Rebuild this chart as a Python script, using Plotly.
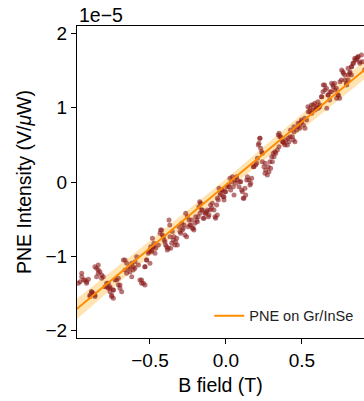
import plotly.graph_objects as go

# B field (T)
b_field = [
    -0.949, -0.960, -0.938, -0.916, -0.905, -0.971, -0.840, -0.851, -0.829, -0.818,
    -0.840, -0.807, -0.884, -0.895, -0.873, -0.862, -0.785, -0.774, -0.763, -0.752,
    -0.741, -0.796, -0.763, -0.719, -0.708, -0.697, -0.686, -0.741, -0.664, -0.653,
    -0.642, -0.631, -0.620, -0.598, -0.587, -0.576, -0.609, -0.555, -0.543, -0.533,
    -0.533, -0.522, -0.500, -0.489, -0.478, -0.467,
    -0.484, -0.474, -0.495, -0.462, -0.507, -0.430, -0.418, -0.407, -0.397, -0.386,
    -0.364, -0.375, -0.370, -0.353, -0.342, -0.331, -0.320, -0.309, -0.298, -0.287,
    -0.276, -0.265, -0.254, -0.243, -0.232, -0.221, -0.211, -0.199, -0.188, -0.178,
    -0.173, -0.166, -0.155, -0.145, -0.134, -0.122, -0.112, -0.101, -0.089, -0.079,
    -0.068, -0.057, -0.046, -0.035, -0.024, -0.013,
    -0.057, -0.013, -0.002, 0.020, 0.031, 0.042, 0.053, 0.064, 0.075, 0.086,
    0.097, 0.108, 0.118, 0.130, 0.141, 0.151, 0.163, 0.184, 0.195, 0.207,
    0.217, 0.222, 0.228, 0.239, 0.239, 0.250, 0.261, 0.272, 0.283, 0.294,
    0.305, 0.316, 0.327, 0.338, 0.349, 0.349, 0.360, 0.371, 0.382, 0.393,
    0.404, 0.414, 0.437, 0.447,
    0.425, 0.447, 0.474, 0.496, 0.485, 0.518, 0.539, 0.551, 0.562, 0.572,
    0.584, 0.595, 0.605, 0.616, 0.628, 0.638, 0.649, 0.661, 0.671, 0.682,
    0.693, 0.704, 0.715, 0.726, 0.737, 0.748, 0.759, 0.770, 0.781, 0.792,
    0.803, 0.814, 0.825, 0.836, 0.847, 0.858, 0.868, 0.880, 0.891, 0.901,
    0.912, 0.825, 0.803,
    # second pass over the cloud
    -0.949, -0.928, -0.917, -0.862, -0.840, -0.851, -0.818, -0.884, -0.895, -0.862,
    -0.785, -0.763, -0.741, -0.752, -0.774, -0.730, -0.708, -0.697, -0.675, -0.664,
    -0.653, -0.632, -0.620, -0.610, -0.599, -0.566, -0.555, -0.533, -0.522, -0.511,
    -0.500, -0.489, -0.478, -0.445, -0.434, -0.423, -0.412, -0.401, -0.390, -0.380,
    -0.368, -0.357, -0.347, -0.336, -0.324, -0.303, -0.291, -0.281, -0.270, -0.259,
    -0.248, -0.237, -0.226, -0.215, -0.204, -0.193, -0.182, -0.171, -0.160, -0.149,
    -0.138, -0.127, -0.116, -0.105, -0.094, -0.072, -0.061, -0.051, -0.039, -0.028,
    -0.018, -0.007, 0.005, 0.015, 0.026, 0.038, 0.048, 0.059, 0.070, 0.092,
    0.103, 0.114, 0.125, 0.136, 0.158, 0.169, 0.257,
    0.180, 0.202, 0.224, 0.213, 0.235, 0.257, 0.278, 0.289, 0.301, 0.311,
    0.322, 0.344, 0.355, 0.377, 0.388, 0.410, 0.421, 0.443, 0.454, 0.465,
    0.476, 0.487, 0.498, 0.509, 0.520, 0.531, 0.541, 0.553, 0.564, 0.574,
    0.586, 0.597, 0.607, 0.618, 0.630, 0.640, 0.651, 0.663, 0.673, 0.684,
    0.695, 0.706, 0.717, 0.728, 0.739, 0.750, 0.761, 0.772, 0.783, 0.794,
    0.805, 0.816, 0.827, 0.838, 0.849, 0.860, 0.870, 0.882,
]

# PNE intensity (units of 1e-5 V/uW)
pne_intensity = [
    -1.229, -1.342, -1.319, -1.342, -1.310, -1.364, -1.117, -1.162, -1.207, -1.252,
    -1.229, -1.274, -1.476, -1.521, -1.498, -1.543, -1.364, -1.431, -1.476, -1.521,
    -1.566, -1.409, -1.409, -1.319, -1.386, -1.431, -1.476, -1.454, -1.050, -1.095,
    -1.162, -1.207, -1.274, -1.072, -1.005, -1.117, -1.140, -1.319, -1.364, -1.386,
    -1.140, -1.050, -1.095, -0.915, -0.871, -0.960,
    -0.758, -0.826, -0.871, -0.893, -0.938, -0.646, -0.713, -0.781, -0.848, -0.915,
    -0.893, -0.511, -0.579, -0.668, -0.736, -0.803, -0.848, -0.601, -0.691, -0.646,
    -0.579, -0.421, -0.467, -0.511, -0.579, -0.624, -0.646, -0.467, -0.534, -0.332,
    -0.265, -0.287, -0.377, -0.489, -0.421, -0.377, -0.444, -0.310, -0.287, -0.377,
    -0.489, -0.444, -0.085, -0.152, -0.108, -0.198,
    -0.220, -0.242, -0.130, -0.063, -0.108, 0.071, -0.175, -0.018, 0.027, -0.063,
    0.004, -0.130, -0.220, -0.175, 0.071, 0.027, -0.018, 0.206, 0.229, 0.319,
    0.521, 0.588, 0.454, 0.386, 0.273, 0.206, 0.162, 0.094, 0.139, 0.184,
    0.273, 0.341, 0.386, 0.431, 0.475, 0.655, 0.610, 0.542, 0.521, 0.565,
    0.498, 0.542, 0.610, 0.677,
    0.700, 0.744, 0.790, 0.834, 0.723, 0.857, 1.013, 0.946, 1.036, 0.969,
    1.059, 0.992, 1.081, 1.013, 1.148, 1.215, 1.306, 1.261, 1.171, 1.104,
    1.215, 1.306, 1.328, 1.261, 1.171, 1.127, 1.373, 1.485, 1.440, 1.328,
    1.373, 1.463, 1.552, 1.597, 1.665, 1.642, 1.686, 1.597, 1.709, 1.619,
    1.507, 1.440, 1.530,
    # second pass over the cloud
    -1.274, -1.319, -1.364, -1.140, -1.184, -1.274, -1.296, -1.476, -1.543, -1.521,
    -1.409, -1.431, -1.454, -1.543, -1.364, -1.319, -1.296, -1.386, -1.050, -1.184,
    -1.229, -1.140, -1.095, -1.184, -1.162, -1.319, -1.364, -1.140, -1.050, -0.960,
    -0.915, -0.938, -0.871, -0.848, -0.691, -0.646, -0.736, -0.803, -0.871, -0.893,
    -0.736, -0.826, -0.781, -0.848, -0.758, -0.668, -0.556, -0.624, -0.713, -0.736,
    -0.601, -0.579, -0.511, -0.624, -0.556, -0.511, -0.467, -0.421, -0.377, -0.489,
    -0.421, -0.400, -0.467, -0.377, -0.354, -0.467, -0.310, -0.242, -0.175, -0.108,
    -0.198, -0.130, -0.063, -0.040, 0.050, 0.004, -0.063, 0.027, 0.071, 0.004,
    -0.108, -0.220, -0.085, 0.027, -0.040, 0.050, 0.117,
    0.206, 0.251, 0.588, 0.498, 0.408, 0.251, 0.206, 0.273, 0.341, 0.386,
    0.408, 0.633, 0.610, 0.542, 0.498, 0.588, 0.610, 0.565, 0.542, 0.700,
    0.744, 0.790, 0.812, 0.767, 0.723, 0.834, 0.946, 0.992, 0.925, 1.036,
    0.969, 1.013, 0.992, 1.036, 1.148, 1.306, 1.238, 0.992, 1.171, 1.215,
    1.328, 1.283, 1.238, 1.127, 1.171, 1.350, 1.507, 1.463, 1.373, 1.306,
    1.440, 1.485, 1.552, 1.597, 1.642, 1.665, 1.686, 1.619,
]

# Linear fit and its confidence band (units of 1e-5)
fit_x = [-1.0, -0.5, 0.0, 0.5, 1.0]
fit_y = [-1.74, -0.89, -0.04, 0.81, 1.66]
band_lower = [-1.88, -0.99, -0.12, 0.71, 1.53]
band_upper = [-1.60, -0.79, 0.04, 0.91, 1.79]

x_ticks = [-0.5, 0.0, 0.5]
y_ticks = [-2, -1, 0, 1, 2]

FONT = "Liberation Sans, Arial, sans-serif"

fig = go.Figure()

fig.add_trace(go.Scatter(
    x=fit_x + fit_x[::-1], y=band_upper + band_lower[::-1],
    fill="toself", fillcolor="rgba(255,165,0,0.3)", line=dict(width=0),
    mode="lines", showlegend=False, hoverinfo="skip",
))
fig.add_trace(go.Scatter(
    x=b_field, y=pne_intensity, mode="markers",
    marker=dict(size=5, color="rgba(139,26,26,0.6)", line=dict(width=0)),
    showlegend=False,
))
fig.add_trace(go.Scatter(
    x=fit_x, y=fit_y, mode="lines",
    line=dict(color="#FF8C00", width=2),
    name="PNE on Gr/InSe",
))

fig.update_layout(
    width=364, height=401,
    margin=dict(l=77, r=0, t=26, b=63),
    plot_bgcolor="white", paper_bgcolor="white",
    font=dict(family=FONT, size=19, color="black"),
    showlegend=True,
    legend=dict(
        x=0.98, y=0.02, xanchor="right", yanchor="bottom",
        bgcolor="rgba(255,255,255,0.8)", borderwidth=0,
        font=dict(family=FONT, size=14.5, color="#222"),
        itemwidth=30,
    ),
    xaxis=dict(
        range=[-0.980, 0.908], tickvals=x_ticks,
        ticktext=["\u22120.5", "0.0", "0.5"],
        showline=True, linecolor="black", linewidth=1.3, mirror=True,
        ticks="outside", ticklen=5, tickwidth=1.3, tickcolor="black",
        showgrid=False, zeroline=False,
        title=dict(text="B field (T)", font=dict(size=19.5), standoff=8),
    ),
    yaxis=dict(
        range=[-2.1, 2.1], tickvals=y_ticks,
        ticktext=["\u22122", "\u22121", "0", "1", "2"],
        showline=True, linecolor="black", linewidth=1.3,
        ticks="outside", ticklen=5, tickwidth=1.3, tickcolor="black",
        showgrid=False, zeroline=False,
        title=dict(text="PNE Intensity (V/<i>\u03bc</i>W)", font=dict(size=19.5), standoff=8),
    ),
    annotations=[dict(
        text="1e\u22125", xref="paper", yref="paper", x=0, y=1,
        xanchor="left", yanchor="bottom", showarrow=False,
        font=dict(family=FONT, size=19.5, color="black"), yshift=-2,
    )],
)

fig.write_html("out.html")
